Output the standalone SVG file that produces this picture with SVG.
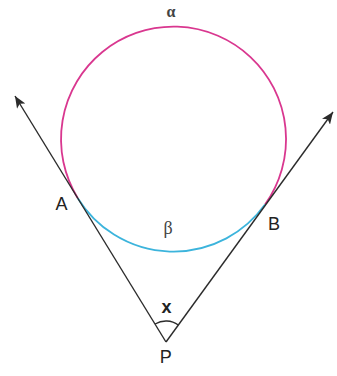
<svg xmlns="http://www.w3.org/2000/svg" width="337" height="376" viewBox="0 0 337 376">
  <style>
    .lbl { font-family: "Liberation Sans", Arial, sans-serif; font-size: 18px; fill: #222; text-anchor: middle; }
    .greek { font-family: "Liberation Serif", "Times New Roman", serif; fill: #444; text-anchor: middle; }
    .tan { stroke: #2b2b2b; stroke-width: 1.4; fill: none; }
    .alpha { stroke: #d9378f; stroke-width: 1.8; fill: none; }
    .beta { stroke: #3cb4dc; stroke-width: 1.8; fill: none; }
  </style>
  <defs>
    <marker id="arrow" viewBox="0 0 12 10" refX="12" refY="5" markerWidth="12" markerHeight="10" markerUnits="userSpaceOnUse" orient="auto">
      <path d="M0,0 L12,5 L0,10 L3,5 z" fill="#2b2b2b"/>
    </marker>
  </defs>
  <rect width="337" height="376" fill="#ffffff"/>

  <g id="arc-alpha">
    <path class="alpha" d="M77.8,198.2 A112.5,112.5 0 1 1 265,204.6"/>
    <text class="greek" x="171" y="17" font-size="16" font-weight="bold">α</text>
  </g>
  <g id="arc-beta">
    <path class="beta" d="M77.8,198.2 A112.5,112.5 0 0 0 265,204.6"/>
    <text class="greek" x="168" y="234" font-size="18">β</text>
  </g>

  <g id="connectors">
    <path class="tan" d="M166,342 L15,96" marker-end="url(#arrow)"/>
    <path class="tan" d="M166,342 L333,112" marker-end="url(#arrow)"/>
  </g>

  <g id="point-A">
    <text class="lbl" x="61.5" y="210">A</text>
  </g>
  <g id="point-B">
    <text class="lbl" x="274" y="230">B</text>
  </g>
  <g id="point-P">
    <path class="tan" d="M155.1,324 A21,21 0 0 1 178.3,325"/>
    <text class="lbl" x="166.5" y="313" font-weight="bold" font-size="16">x</text>
    <text class="lbl" x="165.7" y="363">P</text>
  </g>
</svg>
